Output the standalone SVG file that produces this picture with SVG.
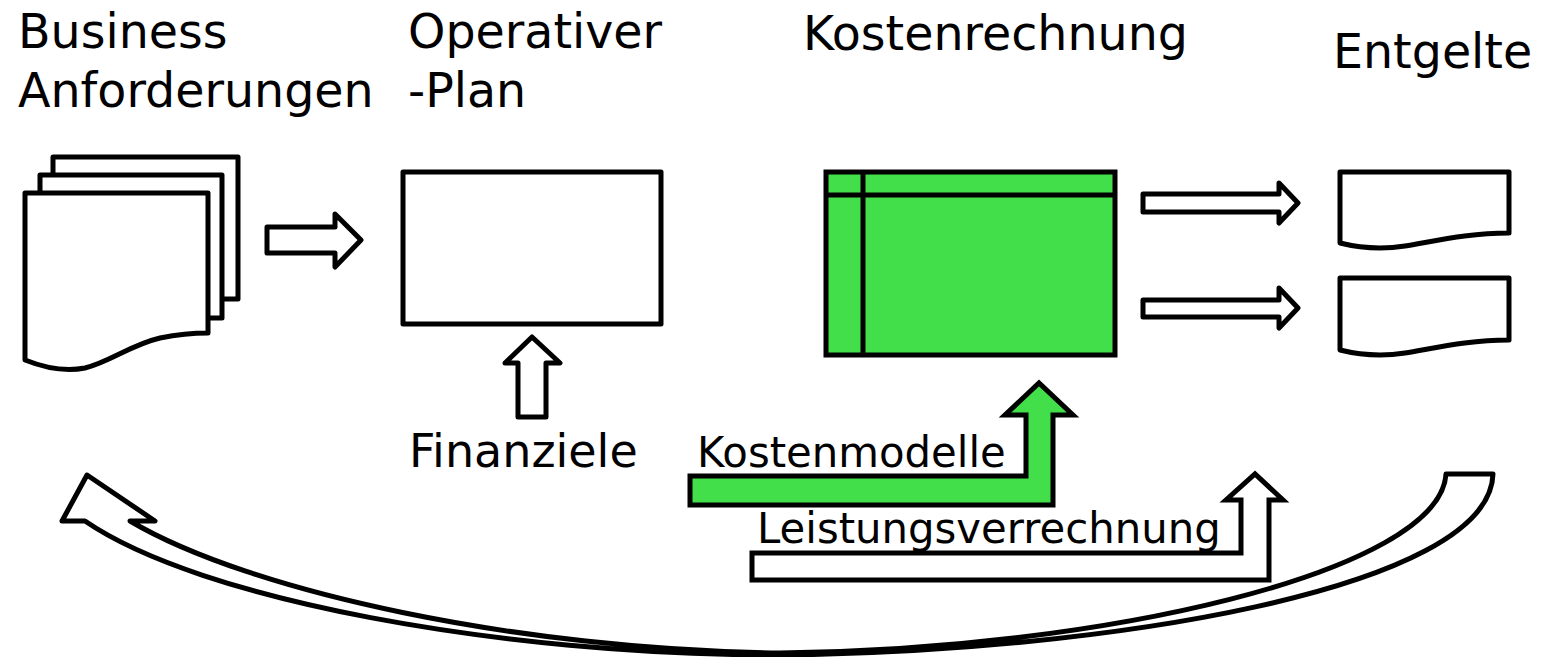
<svg xmlns="http://www.w3.org/2000/svg" width="1542" height="657" viewBox="0 0 1542 657">
<style>
.t{font-family:"DejaVu Sans",Verdana,sans-serif;fill:#000}
.h{font-size:47.5px}
.l{font-size:41.8px}
.s{fill:#fff;stroke:#000;stroke-width:5;stroke-linejoin:round}
.g{fill:#42DF4A;stroke:#000;stroke-width:5;stroke-linejoin:miter}
.ln{fill:none;stroke:#000;stroke-width:5}
</style>
<rect width="1542" height="657" fill="#fff"/>
<g id="titles">
<text class="t h" x="18" y="48">Business</text>
<text class="t h" x="18" y="107">Anforderungen</text>
<text class="t h" x="408" y="48">Operativer</text>
<text class="t h" x="408" y="107">-Plan</text>
<text class="t h" x="803" y="50">Kostenrechnung</text>
<text class="t h" x="1333" y="68">Entgelte</text>
</g>
<g id="business-docs">
<rect class="s" x="53" y="157" width="185" height="142"/>
<rect class="s" x="40" y="175" width="182" height="143"/>
<path class="s" d="M25,193 L208,193 L208,333 C195,333 180,334 160,338 C130,345 110,362 85,368 C65,372 45,368 25,360 Z"/>
</g>
<g id="operativer-plan">
<rect class="s" x="403" y="172" width="258" height="152"/>
</g>
<g id="kostenrechnung">
<rect class="g" x="826" y="172" width="289" height="183"/>
<line class="ln" x1="826" y1="195" x2="1115" y2="195"/>
<line class="ln" x1="863" y1="172" x2="863" y2="355"/>
</g>
<g id="entgelte-1">
<path class="s" d="M1340,172 L1509,172 L1509,233 C1470,233 1440,240 1405,246 C1380,250 1360,248 1340,243 Z"/>
</g>
<g id="entgelte-2">
<path class="s" d="M1340,278 L1509,278 L1509,340 C1470,340 1440,347 1405,353 C1380,357 1360,355 1340,350 Z"/>
</g>
<g id="connectors">
<path class="s" d="M267,227 L335,227 L335,214 L361,240 L335,267 L335,253 L267,253 Z"/>
<path class="s" d="M518,417 L518,363 L505,363 L532,337 L560,363 L546,363 L546,417 Z"/>
<path class="s" d="M1143,194 L1279,194 L1279,183 L1298,203 L1279,223 L1279,212 L1143,212 Z"/>
<path class="s" d="M1143,300 L1279,300 L1279,288 L1298,308 L1279,328 L1279,317 L1143,317 Z"/>
<path class="g" d="M690,476 L1026,476 L1026,415 L1005,415 L1039,383 L1073,415 L1053,415 L1053,505 L690,505 Z"/>
<path class="s" style="stroke-linejoin:miter" d="M752,553 L1241,553 L1241,500 L1226,500 L1255,474 L1283,500 L1269,500 L1269,580 L752,580 Z"/>
<path class="s" d="M1446,474 L1493,474 C1490,590 1100,652 780,655 C500,655 200,600 85,521 L62,521 L87,475 L155,521 L130,521 C250,592 520,650 780,653 C1100,650 1440,572 1446,474 Z"/>
</g>
<g id="labels">
<text class="t" style="font-size:46px" x="409" y="467">Finanziele</text>
<text class="t l" x="697" y="467">Kostenmodelle</text>
<text class="t l" x="757" y="543">Leistungsverrechnung</text>
</g>
</svg>
